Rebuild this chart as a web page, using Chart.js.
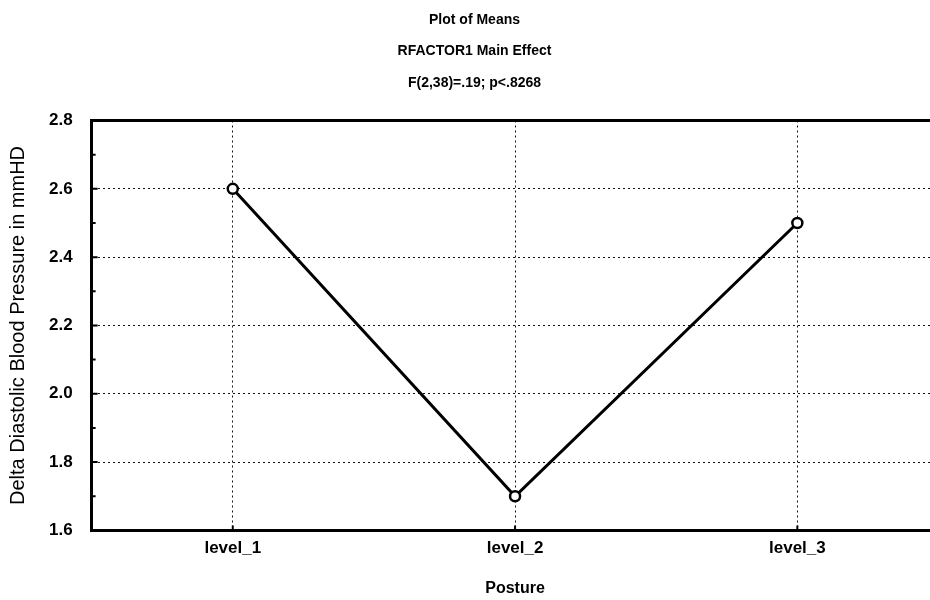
<!DOCTYPE html>
<html>
<head>
<meta charset="utf-8">
<script src="https://cdn.jsdelivr.net/npm/chart.js@4/dist/chart.umd.min.js"></script>
<style>
    html, body { margin: 0; padding: 0; background: #fff; overflow: hidden; }
    #wrap { width: 946px; height: 600px; }
</style>
</head>
<body>
<div id="wrap"><canvas id="meansChart"></canvas></div>
<script>
const levels = ["level_1", "level_2", "level_3"];
const meanValues = [2.6, 1.7, 2.5];
const yMinorTicks = [1.7, 1.9, 2.1, 2.3, 2.5, 2.7];
const titleLines = ["Plot of Means", "RFACTOR1 Main Effect", "F(2,38)=.19; p<.8268"];
const yAxisTitle = "Delta Diastolic Blood Pressure in mmHD";
const xAxisTitle = "Posture";

document.addEventListener("DOMContentLoaded", function () {
    const sans = "'Liberation Sans', Arial, Helvetica, sans-serif";

    Chart.defaults.color = "#000";
    Chart.defaults.font.family = sans;

    // small inward tick marks like the original stat package draws
    const innerTicks = {
        id: "innerTicks",
        afterDatasetsDraw: function (chart) {
            const ctx = chart.ctx;
            const x = chart.scales.x;
            const y = chart.scales.y;
            const left = chart.chartArea.left;
            const bottom = chart.chartArea.bottom;
            ctx.save();
            ctx.strokeStyle = "#000";
            ctx.lineWidth = 2;
            ctx.beginPath();
            yMinorTicks.forEach(function (v) {
                const py = y.getPixelForValue(v);
                ctx.moveTo(left, py);
                ctx.lineTo(left + 4, py);
            });
            y.ticks.forEach(function (t) {
                const py = y.getPixelForValue(t.value);
                ctx.moveTo(left, py);
                ctx.lineTo(left + 6, py);
            });
            levels.forEach(function (l, i) {
                const px = x.getPixelForValue(i);
                ctx.moveTo(px, bottom);
                ctx.lineTo(px, bottom - 5);
            });
            ctx.stroke();
            ctx.restore();
        }
    };

    new Chart(document.getElementById("meansChart"), {
        type: "line",
        data: {
            labels: levels,
            datasets: [{
                data: meanValues,
                borderColor: "#000",
                borderWidth: 3,
                pointRadius: 5,
                pointBorderWidth: 2.5,
                pointBackgroundColor: "#fff",
                pointBorderColor: "#000",
                tension: 0
            }]
        },
        options: {
            responsive: true,
            maintainAspectRatio: false,
            animation: false,
            layout: { padding: { left: 6, right: 3, top: 0, bottom: 2 } },
            plugins: {
                legend: { display: false },
                tooltip: { enabled: false },
                title: {
                    display: true,
                    text: titleLines,
                    align: "center",
                    font: { size: 14, weight: "bold", lineHeight: 2.25 },
                    padding: { top: 4, bottom: 22 }
                }
            },
            scales: {
                x: {
                    offset: true,
                    grid: { color: "#111", lineWidth: 1, drawTicks: false, offset: false },
                    border: { color: "#000", width: 3, dash: [2, 3] },
                    ticks: { padding: 8, font: { size: 17, weight: "bold" } },
                    title: {
                        display: true,
                        text: xAxisTitle,
                        font: { size: 16, weight: "bold" },
                        padding: { top: 12, bottom: 0 }
                    }
                },
                x2: {
                    type: "category",
                    position: "top",
                    offset: true,
                    grid: { display: false, drawTicks: false },
                    ticks: { display: false },
                    border: { color: "#000", width: 3 }
                },
                y: {
                    min: 1.6,
                    max: 2.8,
                    grid: { color: "#111", lineWidth: 1, drawTicks: false },
                    border: { color: "#000", width: 3, dash: [2, 3] },
                    ticks: {
                        stepSize: 0.2,
                        padding: 19,
                        font: { size: 17, weight: "bold" },
                        callback: function (value) { return value.toFixed(1); }
                    },
                    title: {
                        display: true,
                        text: yAxisTitle,
                        font: { size: 20 },
                        padding: { top: 0, bottom: 0 }
                    }
                }
            }
        },
        plugins: [innerTicks]
    });
});
</script>
</body>
</html>
